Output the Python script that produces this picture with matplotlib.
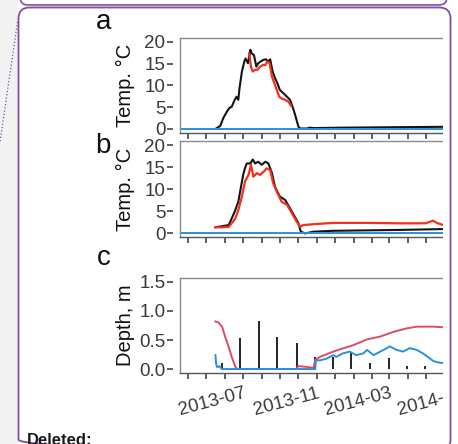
import pandas as pd
import matplotlib
matplotlib.use('Agg')
import matplotlib.pyplot as plt
import matplotlib.dates as mdates
from matplotlib.patches import Rectangle, FancyBboxPatch
from matplotlib.lines import Line2D
from matplotlib.transforms import Affine2D
from matplotlib.ticker import FuncFormatter

plt.rcParams['font.family'] = ['Liberation Sans', 'DejaVu Sans']

# ---- data ----
a_black_dates = ['2013-05-17', '2013-05-24', '2013-05-29', '2013-06-04', '2013-06-08', '2013-06-12',
                 '2013-06-17', '2013-06-20', '2013-06-23', '2013-06-25', '2013-06-29', '2013-07-03',
                 '2013-07-05', '2013-07-09', '2013-07-13', '2013-07-15', '2013-07-19', '2013-07-23',
                 '2013-07-26', '2013-07-30', '2013-08-04', '2013-08-08', '2013-08-12', '2013-08-15',
                 '2013-08-19', '2013-08-23', '2013-08-27', '2013-08-31', '2013-09-06', '2013-09-12',
                 '2013-09-17', '2013-09-23', '2013-09-27', '2013-10-01', '2013-10-04', '2013-10-15',
                 '2013-10-20', '2013-10-26', '2013-12-14', '2014-03-08', '2014-06-10']
a_black_temp = [0.1, 0.7, 2.5, 4.0, 4.8, 5.1, 6.7, 7.4, 6.7, 9.4, 13.2, 15.5, 16.2, 15.1, 18.2, 17.4,
                17.0, 14.3, 15.1, 15.5, 15.9, 16.0, 15.5, 16.0, 13.2, 11.7, 10.5, 9.0, 8.2, 7.4, 6.7,
                4.4, 2.5, 0.5, 0.1, 0.1, 0.3, 0.2, 0.3, 0.4, 0.5]

a_red_dates = ['2013-07-11', '2013-07-14', '2013-07-17', '2013-07-21', '2013-07-25', '2013-07-29',
               '2013-08-03', '2013-08-07', '2013-08-10', '2013-08-14', '2013-08-18', '2013-08-22',
               '2013-08-26', '2013-08-30', '2013-09-03', '2013-09-09', '2013-09-14', '2013-09-19']
a_red_temp = [17.4, 14.3, 13.2, 13.6, 13.6, 14.3, 14.7, 14.7, 15.5, 15.1, 12.0, 10.5, 9.0, 7.4,
              7.0, 6.7, 6.3, 5.3]

b_black_dates = ['2013-05-16', '2013-06-07', '2013-06-12', '2013-06-18', '2013-06-21', '2013-06-23',
                 '2013-06-26', '2013-07-01', '2013-07-04', '2013-07-07', '2013-07-13', '2013-07-17',
                 '2013-07-21', '2013-07-26', '2013-08-01', '2013-08-07', '2013-08-12', '2013-08-18',
                 '2013-08-23', '2013-08-31', '2013-09-09', '2013-09-17', '2013-09-25', '2013-10-01',
                 '2013-10-05', '2013-10-12', '2013-10-26', '2013-11-28', '2014-01-23', '2014-03-19',
                 '2014-05-30', '2014-06-10']
b_black_temp = [1.3, 1.8, 3.3, 5.2, 6.4, 7.1, 9.4, 13.2, 14.7, 15.8, 15.8, 16.7, 15.8, 16.2, 15.5,
                16.2, 15.8, 13.6, 10.5, 8.3, 7.5, 5.6, 3.7, 2.2, 0.3, -0.1, 0.3, 0.5, 0.6, 0.7,
                0.9, 0.95]

b_red_dates = ['2013-05-16', '2013-05-29', '2013-06-07', '2013-06-12', '2013-06-18', '2013-06-23',
               '2013-06-29', '2013-07-04', '2013-07-10', '2013-07-14', '2013-07-18', '2013-07-24',
               '2013-07-29', '2013-08-04', '2013-08-09', '2013-08-15', '2013-08-20', '2013-08-26',
               '2013-09-03', '2013-09-12', '2013-09-20', '2013-09-28', '2013-10-04', '2013-10-09',
               '2013-10-26', '2013-11-28', '2014-01-23', '2014-03-19', '2014-04-30', '2014-05-13',
               '2014-05-19', '2014-05-30', '2014-06-10']
b_red_temp = [1.3, 1.3, 1.4, 2.2, 3.3, 5.2, 8.3, 11.7, 13.2, 15.5, 12.8, 13.6, 13.2, 13.9, 14.7,
              14.3, 11.3, 9.4, 7.1, 6.4, 4.5, 2.6, 1.4, 1.8, 2.0, 2.3, 2.3, 2.2, 2.2, 2.8, 2.3,
              1.8, 1.8]

freeze_level = 0

c_red_dates = ['2013-05-16', '2013-05-21', '2013-05-27', '2013-06-01', '2013-06-07', '2013-06-12',
               '2013-06-18', '2013-06-21', '2013-09-27', '2013-10-01', '2013-10-12', '2013-10-26',
               '2013-10-29', '2013-11-06', '2013-11-28', '2013-12-09', '2013-12-31', '2014-01-23',
               '2014-02-14', '2014-03-08', '2014-03-30', '2014-04-16', '2014-05-13', '2014-05-30',
               '2014-06-10']
c_red_depth = [0.82, 0.80, 0.73, 0.56, 0.38, 0.21, 0.04, 0.0, 0.0, 0.05, 0.04, 0.02, 0.16, 0.21,
               0.30, 0.34, 0.41, 0.51, 0.56, 0.64, 0.70, 0.73, 0.73, 0.72, 0.72]

c_blue_dates = ['2013-05-16', '2013-05-17', '2013-05-19', '2013-05-22', '2013-05-27', '2013-10-29',
                '2013-10-30', '2013-11-06', '2013-11-17', '2013-11-28', '2013-12-03', '2013-12-14',
                '2013-12-25', '2014-01-05', '2014-01-17', '2014-01-23', '2014-02-03', '2014-02-14',
                '2014-02-25', '2014-03-02', '2014-03-13', '2014-03-24', '2014-04-04', '2014-04-16',
                '2014-04-26', '2014-05-08', '2014-05-13', '2014-05-19', '2014-05-30', '2014-06-10']
c_blue_depth = [0.24, 0.09, 0.03, 0.05, 0.0, 0.0, 0.15, 0.15, 0.18, 0.24, 0.21, 0.27, 0.30, 0.24,
                0.27, 0.33, 0.24, 0.30, 0.36, 0.39, 0.33, 0.30, 0.36, 0.33, 0.27, 0.18, 0.14, 0.12,
                0.10, 0.10]

bar_dates = ['2013-05-27', '2013-06-26', '2013-07-27', '2013-08-27', '2013-09-28', '2013-10-29',
             '2013-11-28', '2013-12-28', '2014-01-28', '2014-02-28', '2014-03-30', '2014-04-30']
bar_depth = [0.10, 0.53, 0.82, 0.56, 0.44, 0.21, 0.21, 0.27, 0.11, 0.19, 0.05, 0.05]

temp_ticks = [0, 5, 10, 15, 20]
depth_ticks = [0.0, 0.5, 1.0, 1.5]
x_start, x_end = '2013-03-18', '2014-07-30'

# ---- figure ----
W, H = 458, 444
fig = plt.figure(figsize=(W / 100, H / 100), dpi=100)
fig.patch.set_facecolor('white')
px = Affine2D().scale(1, -1).translate(0, H)   # pixel coords, y down


def make_ax(top, bottom):
    left, right = 180, 480
    return fig.add_axes([left / W, 1 - bottom / H, (right - left) / W, (bottom - top) / H])


def D(lst):
    return pd.to_datetime(lst)


def label_fmt(x, pos):
    d = mdates.num2date(x)
    return d.strftime('%Y-%m') if d.month in (3, 7, 11) else ''


def style(ax, ticks, show_labels):
    ax.set_facecolor('none')
    ax.set_xlim(D([x_start])[0], D([x_end])[0])
    ax.spines['right'].set_visible(False)
    ax.spines['top'].set_color('#8a8a8a')
    ax.spines['top'].set_linewidth(1.0)
    ax.spines['bottom'].set_color('#555555')
    ax.spines['bottom'].set_linewidth(1.0)
    ax.spines['left'].set_position(('outward', 5))
    ax.spines['left'].set_visible(False)
    ax.add_artist(Line2D([0, 0], [0, 1], transform=ax.transAxes, color='#8a8a8a', lw=1.0,
                         clip_on=False))
    ax.set_yticks(ticks)
    ax.xaxis.set_major_locator(mdates.MonthLocator())
    ax.xaxis.set_major_formatter(FuncFormatter(label_fmt) if show_labels else FuncFormatter(lambda x, p: ''))
    ax.tick_params(axis='both', direction='out', length=4.3, width=1.1, color='#333333',
                   labelsize=13.5, labelcolor='#3a3a3a')
    ax.tick_params(axis='y', pad=1.2)
    ax.tick_params(axis='x', pad=4)


ax_a = make_ax(37.6, 133.3)
ax_b = make_ax(140.6, 237.4)
ax_c = make_ax(277.6, 373.4)

black, red, blue, crimson = '#141414', '#f2301c', '#2a8fe0', '#e04a62'

ax_a.plot(D(a_black_dates), a_black_temp, color=black, lw=1.5)
ax_a.plot(D(a_red_dates), a_red_temp, color=red, lw=1.6)
ax_a.axhline(freeze_level, color=blue, lw=1.4)
ax_a.set_ylim(-1, 21)

ax_b.plot(D(b_black_dates), b_black_temp, color=black, lw=1.5)
ax_b.plot(D(b_red_dates), b_red_temp, color=red, lw=1.6)
ax_b.axhline(freeze_level, color=blue, lw=1.4)
ax_b.set_ylim(-1, 21)

ax_c.vlines(D(bar_dates), 0, bar_depth, color=black, lw=1.3)
ax_c.plot(D(c_red_dates), c_red_depth, color=crimson, lw=1.4)
ax_c.plot(D(c_blue_dates), c_blue_depth, color=blue, lw=1.4)
ax_c.set_ylim(-0.075, 1.575)

style(ax_a, temp_ticks, False)
style(ax_b, temp_ticks, False)
style(ax_c, depth_ticks, True)
ax_c.yaxis.set_major_formatter(FuncFormatter(lambda v, p: f'{v:.1f}'))
plt.setp(ax_c.get_xticklabels(), rotation=15, ha='right', rotation_mode='anchor')

for ax, lab in [(ax_a, 'Temp. °C'), (ax_b, 'Temp. °C'), (ax_c, 'Depth, m')]:
    ax.set_ylabel(lab, fontsize=14.5, color='#111111')
    ax.yaxis.set_label_coords((135 - 180) / 300, 0.5)

for letter, x, y in [('a', 96, 29), ('b', 95, 153), ('c', 97, 265)]:
    fig.text(x, y, letter, transform=px, fontsize=20, va='baseline', ha='left', color='#111111')

# ---- surrounding comment-box decorations ----
purple = '#80509f'
fig.add_artist(Rectangle((443, -5), 20, H + 10, transform=px, fc='white', ec='none', zorder=10))
fig.add_artist(Rectangle((-1, -5), 19.5, H + 10, transform=px, fc='#f2f2f2', ec='none', zorder=10))
fig.add_artist(FancyBboxPatch((20, -40), 427, 45, boxstyle='round,pad=0,rounding_size=8',
                              transform=px, fc='white', ec=purple, lw=1.2, zorder=11))
fig.add_artist(FancyBboxPatch((18.5, 7.5), 432, 443, boxstyle='round,pad=0,rounding_size=11',
                              transform=px, fc='none', ec=purple, lw=1.3, zorder=12))
fig.add_artist(Line2D([17.5, 0], [22, 142], transform=px, color=purple, lw=0.9, ls=':', zorder=12))
fig.text(27, 445, 'Deleted:', transform=px, fontsize=12, fontweight='bold', va='baseline',
         ha='left', color='#1a1a1a', zorder=13)

fig.savefig('out.png', dpi=100)
